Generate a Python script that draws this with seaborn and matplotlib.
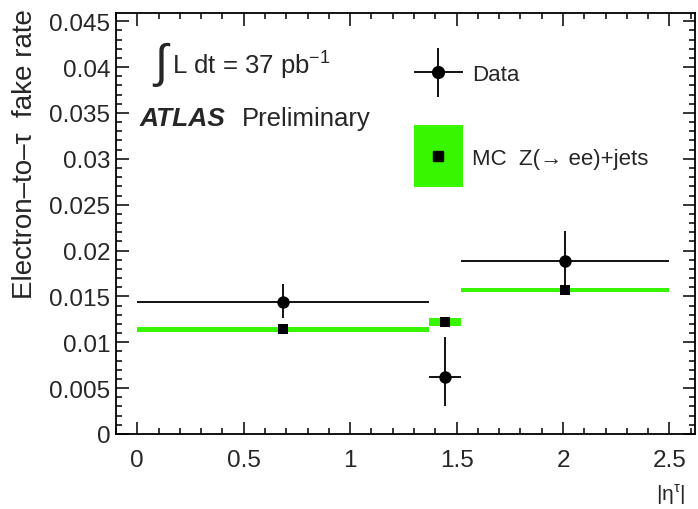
import numpy as np
import pandas as pd
import matplotlib
matplotlib.use("Agg")
import matplotlib.pyplot as plt
from matplotlib.ticker import MultipleLocator, FuncFormatter
from matplotlib.patches import Patch, Rectangle
from matplotlib.lines import Line2D
from matplotlib.container import ErrorbarContainer
from matplotlib.legend_handler import HandlerErrorbar, HandlerPatch, HandlerTuple
import seaborn as sns

# |eta^tau| binning
bin_edges = [0.0, 1.37, 1.52, 2.5]

# Measured fake rate (data) with asymmetric uncertainties
data_rate = [0.0144, 0.0062, 0.0189]
data_err_up = [0.0019, 0.0044, 0.0032]
data_err_dn = [0.0017, 0.0031, 0.0032]

# Z(->ee)+jets simulation and its statistical uncertainty
mc_rate = [0.0114, 0.0122, 0.0157]
mc_err = [0.00025, 0.00045, 0.00027]

edges = np.array(bin_edges)
centers = 0.5 * (edges[:-1] + edges[1:])
half_w = 0.5 * np.diff(edges)
df = pd.DataFrame({
    "eta": centers, "halfw": half_w,
    "data": data_rate, "err_up": data_err_up, "err_dn": data_err_dn,
    "mc": mc_rate, "mc_err": mc_err,
})

sns.set_theme(style="ticks")
plt.rcParams["font.family"] = ["Liberation Sans", "DejaVu Sans"]

GREEN = "#38f500"
INK = "#111111"

fig = plt.figure(figsize=(6.98, 5.10), dpi=100)
ax = fig.add_axes([116 / 698, 75 / 510, 579 / 698, 421 / 510])

# MC uncertainty bands
ax.bar(df["eta"], 2 * df["mc_err"], bottom=df["mc"] - df["mc_err"],
       width=2 * df["halfw"], color=GREEN, linewidth=0, zorder=2)

# Data error bars
eb = ax.errorbar(df["eta"], df["data"], xerr=df["halfw"],
                 yerr=[df["err_dn"], df["err_up"]],
                 fmt="none", ecolor=INK, elinewidth=1.4, capsize=0, zorder=3)

# Markers
sns.scatterplot(data=df, x="eta", y="mc", marker="s", s=62, color="black",
                edgecolor="black", linewidth=0, ax=ax, zorder=4, legend=False)
sns.scatterplot(data=df, x="eta", y="data", marker="o", s=80, color="black",
                edgecolor="black", linewidth=0, ax=ax, zorder=5, legend=False)

ax.set_xlim(-0.1, 2.62)
ax.set_ylim(0, 0.0459)
ax.set_xlabel("")
ax.set_ylabel("")

ax.xaxis.set_major_locator(MultipleLocator(0.5))
ax.xaxis.set_minor_locator(MultipleLocator(0.1))
ax.yaxis.set_major_locator(MultipleLocator(0.005))
ax.yaxis.set_minor_locator(MultipleLocator(0.001))
ax.xaxis.set_major_formatter(FuncFormatter(lambda v, p: f"{v:g}"))
ax.yaxis.set_major_formatter(FuncFormatter(lambda v, p: f"{round(v, 4):g}"))

ax.tick_params(which="both", direction="in", top=True, right=True,
               color="black", width=1.1, labelsize=17.5)
ax.tick_params(which="major", length=9)
ax.tick_params(which="minor", length=4.5)
ax.tick_params(axis="x", which="major", pad=10.5)
ax.tick_params(axis="y", which="major", pad=4)
for s in ax.spines.values():
    s.set_visible(True)
    s.set_linewidth(1.3)
    s.set_color("black")

# Axis titles
fig.text(25 / 698, 1 - 9 / 510, "Electron\u2013to\u2013\u03c4  fake rate",
         rotation=90, ha="center", va="top", fontsize=20)
fig.text(685 / 698, 1 - 495 / 510, "|\u03b7" + r"$^{\mathregular{\tau}}$" + "|",
         ha="right", va="center", fontsize=15)

# Annotations
ax.text(0.066, 0.878, "\u222b", transform=ax.transAxes, fontsize=34,
        ha="left", va="center")
ax.text(0.097, 0.88, r"L dt = 37 pb$^{\mathregular{-1}}$",
        transform=ax.transAxes, fontsize=18.5, ha="left", va="center")
ax.text(0.04, 0.75, "ATLAS", transform=ax.transAxes, fontsize=19,
        fontweight="bold", fontstyle="italic", ha="left", va="center")
ax.text(0.218, 0.75, "Preliminary", transform=ax.transAxes, fontsize=18.5,
        ha="left", va="center")

# Legend: tall filled box for the MC entry, centred on its label
BOX_H = 44.0  # points


def tall_box(legend, orig_handle, xdescent, ydescent, width, height, fontsize):
    yc = -ydescent + height / 2.0
    return Rectangle((-xdescent, yc - BOX_H / 2.0), width, BOX_H)


data_mark = Line2D([], [], marker="o", linestyle="none", color="black",
                   markersize=8.5)
mc_patch = Patch(facecolor=GREEN, edgecolor="none")
mc_mark = Line2D([], [], marker="s", linestyle="none", color="black",
                 markersize=7)
leg = ax.legend([(eb, data_mark), (mc_patch, mc_mark)],
                ["Data", "MC  Z(\u2192 ee)+jets"],
                loc="upper left", bbox_to_anchor=(0.5147, 0.879),
                frameon=False, fontsize=16, borderpad=0, borderaxespad=0,
                handlelength=2.2, handletextpad=0.4, labelspacing=2.83,
                handler_map={
                    tuple: HandlerTuple(ndivide=1, pad=0),
                    ErrorbarContainer: HandlerErrorbar(xerr_size=1.1,
                                                       yerr_size=1.1),
                    Patch: HandlerPatch(patch_func=tall_box),
                })

fig.savefig("out.png", dpi=100)
